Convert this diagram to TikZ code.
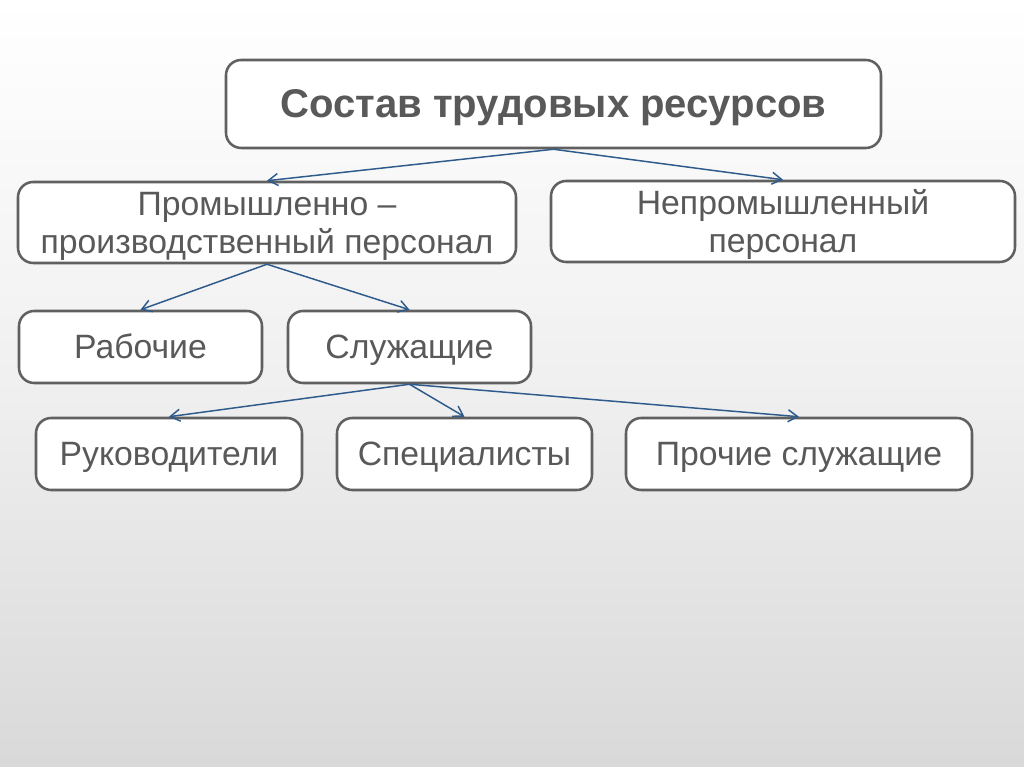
\documentclass[tikz,border=0pt]{standalone}
\usepackage{fontspec}
\setmainfont{Liberation Sans}
\usetikzlibrary{arrows.meta}
\definecolor{ramka}{HTML}{606060}
\definecolor{tekst}{HTML}{595959}
\definecolor{strelka}{HTML}{2E5B8C}
\begin{document}
\begin{tikzpicture}[x=1cm,y=1cm,
    block/.style={draw=ramka,line width=1.8pt,fill=white,rounded corners=0.38cm,
        align=center,inner sep=0pt,text=tekst,text height=0.6cm,text depth=0pt,
        font=\fontsize{24}{27.2}\selectfont},
    twoline/.style={text height=1.55cm},
    link/.style={draw=strelka,line width=1.05pt,-{Straight Barb[length=0.24cm,width=0.3cm]}}]
        % background
        \shade[top color=white,bottom color=black!15,middle color=black!6] (0,0) rectangle (25.6,19.175);
        \useasboundingbox (0,0) rectangle (25.6,19.175);
        \node[block,minimum width=16.375cm,minimum height=2.2cm,text height=0.68cm,font=\fontsize{28.5}{32}\selectfont\bfseries] (sostav) at (13.8375,16.575) {Состав трудовых ресурсов};
        \node[block,twoline,minimum width=12.45cm,minimum height=2.025cm] (prom) at (6.675,13.6125) {Промышленно –\\производственный персонал};
        \node[block,twoline,minimum width=11.6cm,minimum height=2.025cm] (neprom) at (19.575,13.6375) {Непромышленный\\персонал};
        \node[block,minimum width=6.075cm,minimum height=1.8cm] (rab) at (3.5125,10.5) {Рабочие};
        \node[block,minimum width=6.075cm,minimum height=1.8cm] (sluzh) at (10.2375,10.5) {Служащие};
        \node[block,minimum width=6.65cm,minimum height=1.8cm] (ruk) at (4.225,7.825) {Руководители};
        \node[block,minimum width=6.375cm,minimum height=1.8cm] (spec) at (11.6125,7.825) {Специалисты};
        \node[block,minimum width=8.65cm,minimum height=1.8cm] (proch) at (19.975,7.825) {Прочие служащие};
        % arrows
        \draw[link] (sostav.south) -- (prom.north);
        \draw[link] (sostav.south) -- (neprom.north);
        \draw[link] (prom.south) -- (rab.north);
        \draw[link] (prom.south) -- (sluzh.north);
        \draw[link] (sluzh.south) -- (ruk.north);
        \draw[link] (sluzh.south) -- (spec.north);
        \draw[link] (sluzh.south) -- (proch.north);
    \end{tikzpicture}
\end{document}
